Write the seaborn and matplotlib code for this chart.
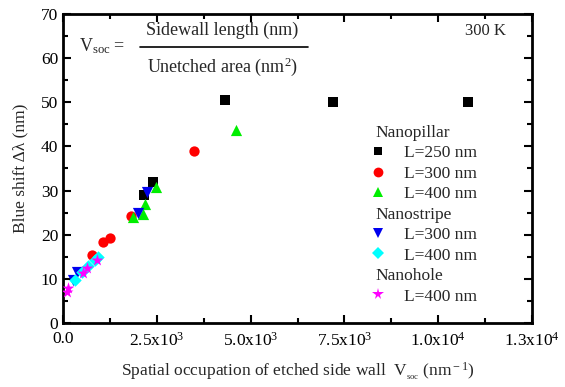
import matplotlib
matplotlib.use("Agg")
import matplotlib.pyplot as plt
import seaborn as sns
import pandas as pd
from matplotlib.lines import Line2D
from matplotlib.ticker import MultipleLocator, FixedLocator

# ---- data ----
pillar250_x = [2168, 2407, 4318, 7196, 10794]
pillar250_y = [29.0, 32.0, 50.5, 50.1, 50.0]
pillar300_x = [764, 1075, 1253, 1812, 3500]
pillar300_y = [15.4, 18.4, 19.2, 24.2, 39.0]
pillar400_x = [1858, 2125, 2186, 2479, 4611]
pillar400_y = [23.9, 24.8, 27.0, 30.9, 43.8]
stripe300_x = [275, 365, 1990, 2230]
stripe300_y = [9.7, 11.6, 25.0, 29.7]
stripe400_x = [320, 506, 666, 853, 933]
stripe400_y = [9.7, 11.6, 12.9, 14.3, 15.0]
hole400_x = [98, 141, 541, 632, 898]
hole400_y = [7.0, 7.9, 11.3, 12.5, 14.3]

xtick_vals = [0, 2500, 5000, 7500, 10000, 12500]
xtick_labels = ["0.0", "2.5x10$^3$", "5.0x10$^3$", "7.5x10$^3$", "1.0x10$^4$", "1.3x10$^4$"]

series = [
    ("Nanopillar", "L=250 nm", pillar250_x, pillar250_y, "s", "black", 45),
    ("Nanopillar", "L=300 nm", pillar300_x, pillar300_y, "o", "red", 55),
    ("Nanopillar", "L=400 nm", pillar400_x, pillar400_y, "^", "#00ee00", 65),
    ("Nanostripe", "L=300 nm", stripe300_x, stripe300_y, "v", "#0000ee", 65),
    ("Nanostripe", "L=400 nm", stripe400_x, stripe400_y, "D", "cyan", 40),
    ("Nanohole", "L=400 nm", hole400_x, hole400_y, "*", "magenta", 80),
]

sns.set_theme(style="ticks")
plt.rcParams['font.family'] = ['Liberation Serif', 'DejaVu Serif']
plt.rcParams['mathtext.fontset'] = 'custom'
plt.rcParams['mathtext.rm'] = 'Liberation Serif'
plt.rcParams['mathtext.it'] = 'Liberation Serif:italic'
plt.rcParams['mathtext.bf'] = 'Liberation Serif:bold'

fig = plt.figure(figsize=(5.65, 3.87), dpi=100)
ax = fig.add_axes([0.1115, 0.1654, 0.8301, 0.7984])

for grp, lab, xs, ys, mk, col, s in series:
    df = pd.DataFrame({"x": xs, "y": ys})
    sns.scatterplot(data=df, x="x", y="y", marker=mk, color=col, s=s,
                    linewidth=0, ax=ax, zorder=3)

ax.set_xlim(0, 12500)
ax.set_ylim(0, 70)
ax.xaxis.set_major_locator(FixedLocator(xtick_vals))
ax.set_xticklabels(xtick_labels)
ax.xaxis.set_minor_locator(MultipleLocator(1250))
ax.yaxis.set_major_locator(MultipleLocator(10))
ax.yaxis.set_minor_locator(MultipleLocator(5))
ax.tick_params(which='both', direction='in', top=True, right=True, width=1.5,
               labelsize=12.5, colors='black')
ax.tick_params(which='major', length=6)
ax.tick_params(which='minor', length=3.5)
ax.tick_params(axis='x', pad=6)
for sp in ax.spines.values():
    sp.set_linewidth(2)
    sp.set_color('black')

ax.set_xlabel("Spatial occupation of etched side wall  V$_{_{\\rm soc}}$ (nm$^{\\rm -1}$)",
              fontsize=12.5, labelpad=8)
ax.set_ylabel("Blue shift \u0394\u03bb (nm)", fontsize=12.5, labelpad=9)

# equation annotation
ax.text(0.035, 0.895, "V$_{\\rm soc}$ =", transform=ax.transAxes, fontsize=13,
        ha='left', va='center')
ax.text(0.34, 0.948, "Sidewall length (nm)", transform=ax.transAxes, fontsize=13,
        ha='center', va='center')
ax.text(0.34, 0.83, "Unetched area (nm$^2$)", transform=ax.transAxes, fontsize=13,
        ha='center', va='center')
ax.add_line(Line2D([0.165, 0.523], [0.892, 0.892], transform=ax.transAxes,
                   color='black', linewidth=1.2))
ax.text(0.945, 0.945, "300 K", transform=ax.transAxes, fontsize=12,
        ha='right', va='center')

# grouped legend
handles, labels, headers = [], [], []
prev = None
for grp, lab, xs, ys, mk, col, s in series:
    if grp != prev:
        handles.append(Line2D([], [], linestyle='none', marker=None))
        labels.append(grp)
        headers.append(True)
        prev = grp
    handles.append(Line2D([], [], linestyle='none', marker=mk, color=col,
                          markersize=(s ** 0.5) * 0.95, markeredgewidth=0))
    labels.append(lab)
    headers.append(False)

leg = ax.legend(handles, labels, loc='upper left', bbox_to_anchor=(0.634, 0.665),
                frameon=False, fontsize=12.5, handlelength=1.2, handletextpad=0.9,
                labelspacing=0.25, borderaxespad=0)
for t, h in zip(leg.get_texts(), headers):
    if h:
        t.set_x(-28)

fig.savefig("out.png", dpi=100)
